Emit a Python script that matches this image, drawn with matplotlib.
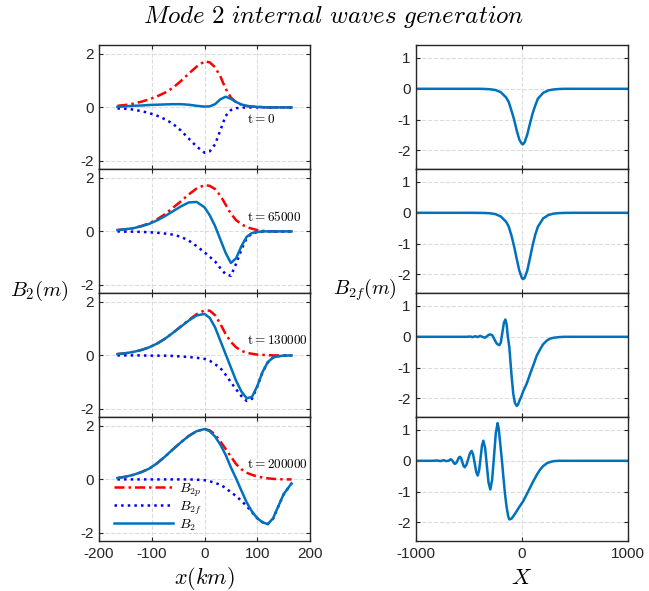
import matplotlib
matplotlib.use('Agg')
import matplotlib.pyplot as plt

plt.rcParams['mathtext.fontset'] = 'cm'
plt.rcParams['font.family'] = ['Liberation Sans', 'DejaVu Sans']
plt.rcParams['axes.unicode_minus'] = False

# left column: x in km
x_km = [-165, -150, -135, -120, -105, -90, -75, -60, -45, -30, -15, 0, 10, 20, 30, 40,
        50, 60, 70, 80, 90, 100, 110, 120, 130, 140, 150, 165]

# t = 0
b2p_0 = [0.06, 0.09, 0.14, 0.21, 0.3, 0.41, 0.55, 0.73, 0.98, 1.26, 1.52, 1.72, 1.68, 1.5,
         1.16, 0.7, 0.37, 0.19, 0.1, 0.05, 0.03, 0.02, 0.01, 0.0, 0.0, 0.0, 0.0, 0.0]
b2f_0 = [-0.04, -0.05, -0.08, -0.14, -0.21, -0.31, -0.44, -0.61, -0.86, -1.16, -1.46, -1.69,
         -1.64, -1.38, -0.86, -0.32, -0.1, -0.03, -0.01, 0.0, 0.0, 0.0, 0.0, 0.0, 0.0, 0.0, 0.0, 0.0]
b2_0 = [0.02, 0.04, 0.06, 0.07, 0.09, 0.1, 0.11, 0.12, 0.12, 0.1, 0.06, 0.03, 0.04, 0.12,
        0.3, 0.4, 0.32, 0.2, 0.11, 0.06, 0.03, 0.02, 0.01, 0.0, 0.0, 0.0, 0.0, 0.0]

# t = 65000
b2p_1 = [0.05, 0.08, 0.12, 0.2, 0.3, 0.45, 0.64, 0.88, 1.12, 1.38, 1.6, 1.73, 1.7, 1.58,
         1.34, 1.0, 0.66, 0.42, 0.27, 0.16, 0.1, 0.05, 0.02, 0.01, 0.0, 0.0, 0.0, 0.0]
b2f_1 = [0.0, -0.01, -0.01, -0.02, -0.03, -0.05, -0.08, -0.12, -0.2, -0.34, -0.55, -0.78,
         -0.95, -1.12, -1.37, -1.6, -1.66, -1.2, -0.68, -0.25, -0.08, -0.02, -0.01, 0.0, 0.0, 0.0, 0.0, 0.0]
b2_1 = [0.05, 0.08, 0.12, 0.19, 0.28, 0.41, 0.57, 0.75, 0.93, 1.08, 1.1, 0.9, 0.6, 0.2,
        -0.3, -0.8, -1.18, -1.0, -0.55, -0.2, -0.06, -0.02, 0.0, 0.0, 0.0, 0.0, 0.0, 0.0]

# t = 130000
b2p_2 = [0.05, 0.08, 0.13, 0.2, 0.3, 0.44, 0.62, 0.84, 1.08, 1.32, 1.54, 1.68, 1.67, 1.5,
         1.18, 0.8, 0.5, 0.3, 0.17, 0.1, 0.06, 0.03, 0.02, 0.01, 0.0, 0.0, 0.0, 0.0]
b2f_2 = [0.0, 0.0, 0.0, 0.0, -0.01, -0.01, -0.01, -0.02, -0.04, -0.06, -0.09, -0.13, -0.2,
         -0.33, -0.47, -0.72, -1.0, -1.27, -1.52, -1.7, -1.62, -1.17, -0.63, -0.26, -0.08, -0.03, -0.01, 0.0]
b2_2 = [0.05, 0.08, 0.13, 0.2, 0.3, 0.44, 0.62, 0.84, 1.07, 1.3, 1.49, 1.55, 1.4, 1.05,
        0.55, 0.05, -0.45, -0.95, -1.35, -1.6, -1.55, -1.15, -0.62, -0.25, -0.08, -0.03, -0.01, 0.0]

# t = 200000
b2p_3 = [0.05, 0.1, 0.17, 0.27, 0.4, 0.6, 0.85, 1.12, 1.38, 1.62, 1.8, 1.88, 1.83, 1.68,
         1.42, 1.14, 0.85, 0.57, 0.38, 0.25, 0.17, 0.11, 0.07, 0.04, 0.02, 0.01, 0.0, 0.0]
b2f_3 = [0.0, 0.0, 0.0, 0.0, 0.0, 0.0, 0.0, 0.0, 0.0, 0.0, -0.01, -0.03, -0.07, -0.13,
         -0.2, -0.32, -0.48, -0.62, -0.8, -1.0, -1.22, -1.45, -1.6, -1.67, -1.47, -1.01, -0.56, -0.15]
b2_3 = [0.05, 0.1, 0.17, 0.27, 0.4, 0.6, 0.85, 1.12, 1.38, 1.62, 1.8, 1.88, 1.8, 1.6,
        1.3, 0.92, 0.45, 0.03, -0.42, -0.86, -1.2, -1.45, -1.6, -1.67, -1.45, -1.0, -0.55, -0.15]

times = ['0', '65000', '130000', '200000']
b2p = [b2p_0, b2p_1, b2p_2, b2p_3]
b2f = [b2f_0, b2f_1, b2f_2, b2f_3]
b2 = [b2_0, b2_1, b2_2, b2_3]
label_y = [-0.45, 0.55, 0.55, 0.55]

# right column: B2f against X
X_dip = [-1000, -500, -400, -350, -300, -250, -200, -150, -125, -100, -75, -50, -25, 0, 10,
         25, 50, 75, 100, 125, 150, 200, 250, 300, 350, 400, 500, 1000]
r_0 = [0.0, 0.0, 0.0, -0.005, -0.015, -0.04, -0.11, -0.28, -0.43, -0.7, -0.99, -1.35, -1.65,
       -1.79, -1.8, -1.73, -1.48, -1.13, -0.8, -0.54, -0.32, -0.13, -0.05, -0.02, -0.006, 0.0, 0.0, 0.0]
r_1 = [0.0, 0.0, -0.003, -0.006, -0.016, -0.043, -0.12, -0.29, -0.45, -0.73, -1.08, -1.49,
       -1.88, -2.12, -2.15, -2.11, -1.87, -1.47, -1.06, -0.71, -0.45, -0.18, -0.07, -0.025, -0.01, -0.003, 0.0, 0.0]

X_2 = [-1000, -600, -520, -490, -465, -440, -420, -395, -375, -350, -330, -315, -302, -280,
       -258, -236, -214, -200, -186, -171, -157, -145, -135, -119, -108, -97, -82, -66, -50,
       -38, -25, -5, 13, 44, 75, 107, 138, 170, 200, 235, 265, 300, 350, 400, 1000]
r_2 = [0.0, 0.0, 0.0, 0.01, -0.01, 0.02, -0.01, 0.03, 0.0, -0.03, 0.02, 0.06, 0.08, 0.05,
       -0.1, -0.23, -0.27, -0.19, 0.12, 0.45, 0.56, 0.4, 0.05, -0.35, -0.85, -1.32, -1.86,
       -2.15, -2.24, -2.2, -2.08, -1.92, -1.75, -1.52, -1.22, -0.92, -0.62, -0.41, -0.24,
       -0.12, -0.06, -0.03, -0.01, 0.0, 0.0]

X_3 = [-1000, -850, -800, -770, -740, -715, -695, -673, -663, -652, -642, -632, -620, -608,
       -597, -585, -574, -563, -552, -541, -524, -508, -491, -475, -461, -446, -432, -418,
       -405, -391, -378, -365, -348, -332, -316, -299, -282, -264, -247, -230, -220, -205,
       -189, -175, -160, -145, -130, -120, -100, -66, -30, 13, 60, 107, 140, 170, 200, 235,
       265, 300, 350, 1000]
r_3 = [0.0, 0.0, 0.01, -0.01, 0.02, -0.01, 0.0, 0.05, 0.03, -0.02, -0.08, -0.1, -0.07, 0.01,
       0.1, 0.13, 0.08, -0.04, -0.16, -0.21, -0.13, 0.05, 0.24, 0.32, 0.2, -0.08, -0.36, -0.48,
       -0.32, 0.08, 0.48, 0.65, 0.42, -0.14, -0.7, -0.93, -0.62, 0.14, 0.9, 1.22, 1.05, 0.55,
       0.0, -0.55, -1.09, -1.5, -1.8, -1.9, -1.88, -1.72, -1.52, -1.3, -0.98, -0.66, -0.45,
       -0.29, -0.17, -0.08, -0.04, -0.01, 0.0, 0.0]

right_x = [X_dip, X_dip, X_2, X_3]
right_y = [r_0, r_1, r_2, r_3]

blue = '#0072BD'
axcol = '#262626'

def style(ax):
    ax.tick_params(direction='in', length=3, top=True, right=True, labelsize=11,
                   colors=axcol, pad=4)
    for s in ax.spines.values():
        s.set_color(axcol)
        s.set_linewidth(1.0)
    ax.grid(True, ls='--', color='#dcdcdc', lw=0.8)
    ax.set_axisbelow(True)

fig = plt.figure(figsize=(6.49, 5.91), dpi=100)
W, H = 649.0, 591.0

for i in range(4):
    top = 45 + 124 * i
    ax = fig.add_axes([99 / W, 1 - (top + 124) / H, 211 / W, 124 / H])
    ax.plot(x_km, b2p[i], color='r', ls='-.', lw=1.8, dashes=(4, 1.6, 1, 1.6), label='$B_{2p}$')
    ax.plot(x_km, b2f[i], color='b', ls=':', lw=1.8, label='$B_{2f}$')
    ax.plot(x_km, b2[i], color=blue, lw=1.8, label='$B_2$')
    ax.set_xlim(-200, 200)
    ax.set_ylim(-2.3, 2.33)
    ax.set_xticks([-200, -100, 0, 100, 200])
    ax.set_yticks([-2, 0, 2])
    style(ax)
    ax.text(80, label_y[i], r'$\mathrm{t{=}' + times[i] + '}$', fontsize=9.5, va='center', ha='left')
    if i < 3:
        ax.tick_params(labelbottom=False)
    else:
        ax.legend(loc='lower left', bbox_to_anchor=(0.03, 0.0), frameon=False, fontsize=10,
                  handlelength=4.3, labelspacing=0.05, handletextpad=0.4, borderaxespad=0.2)

    ax2 = fig.add_axes([416 / W, 1 - (top + 124) / H, 212 / W, 124 / H])
    ax2.plot(right_x[i], right_y[i], color=blue, lw=1.8)
    ax2.set_xlim(-1000, 1000)
    ax2.set_ylim(-2.6, 1.42)
    ax2.set_xticks([-1000, 0, 1000])
    ax2.set_yticks([-2, -1, 0, 1])
    style(ax2)
    if i < 3:
        ax2.tick_params(labelbottom=False)

fig.text(334 / W, 1 - 17 / H, r'$Mode\ 2\ internal\ waves\ generation$', fontsize=18,
         ha='center', va='center')
fig.text(10 / W, 1 - 291 / H, '$B_2(m)$', fontsize=15, ha='left', va='center')
fig.text(333 / W, 1 - 290 / H, '$B_{2f}(m)$', fontsize=14.5, ha='left', va='center')
fig.text(204 / W, 1 - 579 / H, '$x(km)$', fontsize=16, ha='center', va='center')
fig.text(521 / W, 1 - 578 / H, '$X$', fontsize=16, ha='center', va='center')

plt.savefig('out.png', dpi=100)
